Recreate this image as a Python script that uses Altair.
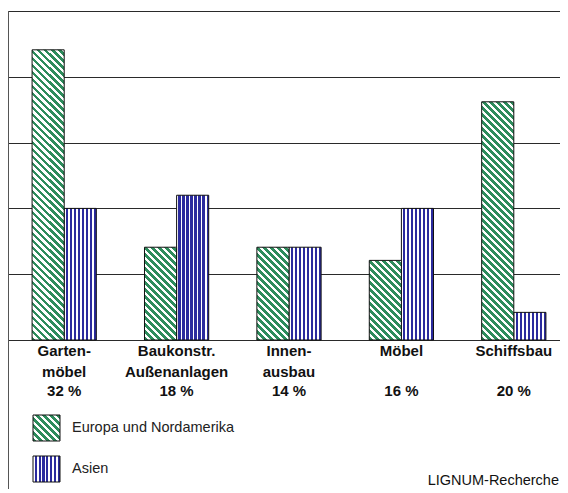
import altair as alt
import pandas as pd

# ---- data ----
categories = ["Gartenmöbel", "Baukonstr. Außenanlagen", "Innenausbau", "Möbel", "Schiffsbau"]
label_line1 = ["Garten-", "Baukonstr.", "Innen-", "Möbel", "Schiffsbau"]
label_line2 = ["möbel", "Außenanlagen", "ausbau", "", ""]
label_share = ["32 %", "18 %", "14 %", "16 %", "20 %"]
series = ["Europa und Nordamerika", "Asien"]
europa = [4.41, 1.41, 1.41, 1.21, 3.62]
asien = [2.0, 2.2, 1.41, 2.0, 0.42]
y_ticks = [0, 1, 2, 3, 4, 5]
source_note = "LIGNUM-Recherche"

# ---- styling ----
W, H = 552, 329          # visible plot area (reference plot continues past the right edge)
TOTAL_H = 478
Y_MAX = 5
BAR_W = 32
GREEN = "#2e8c5c"
BLUE = "#2b2b9e"
FONT = "Liberation Sans"


def vstripes(n=8, color=BLUE):
    stops = []
    for k in range(n):
        a, m, b = k / n, (k + 0.45) / n, (k + 1) / n
        stops += [{"offset": a, "color": "white"}, {"offset": m, "color": "white"},
                  {"offset": m, "color": color}, {"offset": b, "color": color}]
    return {"gradient": "linear", "x1": 0, "y1": 0, "x2": 1, "y2": 0, "stops": stops}


def dstripes(w, h, period=7.0, frac=0.55, color=GREEN):
    L = w + h
    s = L / (w * w + h * h)
    stops = []
    k = 0
    while k * period < L:
        a = k * period / L
        m = min((k + frac) * period / L, 1.0)
        b = min((k + 1) * period / L, 1.0)
        stops += [{"offset": a, "color": color}, {"offset": m, "color": color},
                  {"offset": m, "color": "white"}, {"offset": b, "color": "white"}]
        k += 1
    return {"gradient": "linear", "x1": 0, "y1": 1, "x2": s * w, "y2": 1 - s * h, "stops": stops}


xscale = alt.Scale(domain=categories, range=[0, 562], paddingInner=0.4286, paddingOuter=0.2143)
x_enc = alt.X("category:N", sort=categories, scale=xscale, axis=None)
xo_enc = alt.XOffset("series:N", sort=series, scale=alt.Scale(domain=series, paddingInner=0, paddingOuter=0))
y_enc = alt.Y("value:Q", scale=alt.Scale(domain=[0, Y_MAX], nice=False, zero=True),
              axis=alt.Axis(values=y_ticks, grid=True, gridColor="#2a2a2a", gridWidth=1,
                            labels=False, ticks=False, domain=False, title=None,
                            minExtent=0, maxExtent=0))

layers = []

# Asien bars (vertical stripes)
df_as = pd.DataFrame({"category": categories, "series": series[1], "value": asien})
layers.append(alt.Chart(df_as).mark_bar(fill=vstripes(), stroke="#111", strokeWidth=1).encode(
    x=x_enc, xOffset=xo_enc, y=y_enc))

# Europa bars (diagonal stripes) – one layer per bar, stripe geometry depends on bar height
for c, v in zip(categories, europa):
    h = v / Y_MAX * H
    df_e = pd.DataFrame({"category": [c], "series": [series[0]], "value": [v]})
    layers.append(alt.Chart(df_e).mark_bar(fill=dstripes(BAR_W, h), stroke="#111", strokeWidth=1).encode(
        x=x_enc, xOffset=xo_enc, y=y_enc))

# category labels (three lines)
df_lab = pd.DataFrame({"category": categories, "l1": label_line1, "l2": label_line2, "l3": label_share})
for field, ypos in (("l1", 345), ("l2", 366), ("l3", 385)):
    layers.append(alt.Chart(df_lab).mark_text(font=FONT, fontSize=15, fontWeight="bold",
                                              baseline="alphabetic", align="center", color="#111").encode(
        x=x_enc, y=alt.value(ypos), text=alt.Text(f"{field}:N")))

# frame: left line
df_one = pd.DataFrame({"k": [0]})
layers.append(alt.Chart(df_one).mark_rule(color="#555", strokeWidth=1).encode(
    x=alt.value(0.5), y=alt.value(0), y2=alt.value(TOTAL_H)))

# legend
df_leg = pd.DataFrame({"series": series, "pos": [0, 1]})
leg_y = [404, 445]
layers.append(alt.Chart(df_leg.iloc[[0]]).mark_rect(fill=dstripes(27, 26), stroke="#111", strokeWidth=1).encode(
    x=alt.value(25), x2=alt.value(52), y=alt.value(leg_y[0]), y2=alt.value(leg_y[0] + 26)))
layers.append(alt.Chart(df_leg.iloc[[1]]).mark_rect(fill=vstripes(7), stroke="#111", strokeWidth=1).encode(
    x=alt.value(25), x2=alt.value(52), y=alt.value(leg_y[1]), y2=alt.value(leg_y[1] + 26)))
for i in range(2):
    layers.append(alt.Chart(df_leg.iloc[[i]]).mark_text(font=FONT, fontSize=14.5, align="left",
                                                        baseline="middle", color="#222").encode(
        x=alt.value(64), y=alt.value(leg_y[i] + 13), text=alt.Text("series:N")))

# source note
df_src = pd.DataFrame({"t": [source_note]})
layers.append(alt.Chart(df_src).mark_text(font=FONT, fontSize=14.5, align="right",
                                          baseline="middle", color="#111").encode(
    x=alt.value(551), y=alt.value(470), text=alt.Text("t:N")))

chart = alt.layer(*layers).properties(
    width=W, height=H,
    padding={"left": 0, "top": 3, "right": 0, "bottom": TOTAL_H - H},
    autosize=alt.AutoSizeParams(type="none"),
    background="white",
).configure_view(stroke=None)

chart.save("out.html", embed_options={"renderer": "svg", "actions": False})
